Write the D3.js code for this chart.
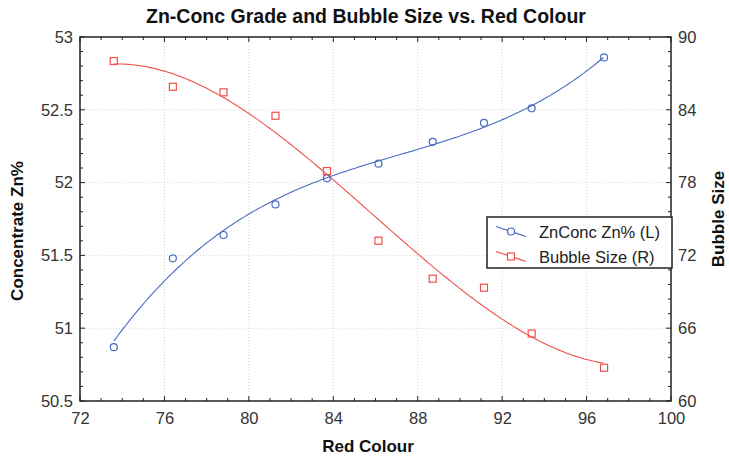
<!DOCTYPE html>
<html>
<head>
<script src="https://cdn.jsdelivr.net/npm/d3@7"></script>
<style>
  body { margin: 0; background: #fff; }
  text { font-family: Arial, "Liberation Sans", sans-serif; }
  .grid line { stroke: #d4d4d4; stroke-dasharray: 1,2; }
  .tick text { fill: #333; font-size: 16.5px; }
</style>
</head>
<body>
<script>
// Red Colour values (x)
var redColour = [73.6, 76.4, 78.8, 81.26, 83.7, 86.14, 88.71, 91.14, 93.4, 96.83];
// Concentrate Zn% (left axis)
var znConc = [50.87, 51.48, 51.64, 51.85, 52.03, 52.13, 52.28, 52.41, 52.51, 52.86];
// Bubble size (right axis)
var bubbleSize = [88.02, 85.9, 85.44, 83.51, 78.95, 73.21, 70.08, 69.34, 65.56, 62.74];

var xTicks = [72, 76, 80, 84, 88, 92, 96, 100];
var leftTicks = [50.5, 51, 51.5, 52, 52.5, 53];
var rightTicks = [60, 66, 72, 78, 84, 90];

var W = 729, H = 461;
var L = 80, R = 671, T = 37, B = 401;

var svg = d3.select("body").append("svg").attr("width", W).attr("height", H);

var x = d3.scaleLinear().domain([72, 100]).range([L, R]);
var yL = d3.scaleLinear().domain([50.5, 53]).range([B, T]);
var yR = d3.scaleLinear().domain([60, 90]).range([B, T]);

// grid
var g = svg.append("g").attr("class", "grid");
g.selectAll(".vx").data(xTicks.slice(1, -1)).enter().append("line")
  .attr("x1", d => x(d)).attr("x2", d => x(d)).attr("y1", T).attr("y2", B);
g.selectAll(".hy").data(leftTicks.slice(1, -1)).enter().append("line")
  .attr("x1", L).attr("x2", R).attr("y1", d => yL(d)).attr("y2", d => yL(d));

// minor ticks (inward)
function minor(scale, step) {
  var d = scale.domain(), out = [];
  for (var v = d[0]; v <= d[1] + 1e-9; v += step) out.push(+v.toFixed(4));
  return out;
}
var tk = svg.append("g").attr("stroke", "#222").attr("stroke-width", 1);
minor(x, 1).forEach(function(v) {
  var len = (v % 4 === 0) ? 5 : 3;
  tk.append("line").attr("x1", x(v)).attr("x2", x(v)).attr("y1", B).attr("y2", B - len);
  tk.append("line").attr("x1", x(v)).attr("x2", x(v)).attr("y1", T).attr("y2", T + len);
});
minor(yL, 0.1).forEach(function(v) {
  var len = (Math.abs(v * 2 - Math.round(v * 2)) < 1e-6) ? 5 : 3;
  tk.append("line").attr("x1", L).attr("x2", L + len).attr("y1", yL(v)).attr("y2", yL(v));
});
minor(yR, 1.2).forEach(function(v) {
  var len = (Math.abs(v / 6 - Math.round(v / 6)) < 1e-6) ? 5 : 3;
  tk.append("line").attr("x1", R).attr("x2", R - len).attr("y1", yR(v)).attr("y2", yR(v));
});

// axes labels through d3 axes
svg.append("g").attr("transform", "translate(0," + B + ")")
  .call(d3.axisBottom(x).tickValues(xTicks).tickSize(0).tickPadding(11).tickFormat(d3.format("d")))
  .call(a => a.select(".domain").remove());
svg.append("g").attr("transform", "translate(" + L + ",0)")
  .call(d3.axisLeft(yL).tickValues(leftTicks).tickSize(0).tickPadding(7).tickFormat(d => d))
  .call(a => a.select(".domain").remove());
svg.append("g").attr("transform", "translate(" + R + ",0)")
  .call(d3.axisRight(yR).tickValues(rightTicks).tickSize(0).tickPadding(7).tickFormat(d3.format("d")))
  .call(a => a.select(".domain").remove());

// frame
svg.append("rect").attr("x", L).attr("y", T).attr("width", R - L).attr("height", B - T)
  .attr("fill", "none").attr("stroke", "#222").attr("stroke-width", 1.5);

// cubic least squares fit
function polyfit(xs, ys, deg) {
  var n = deg + 1, A = [], b = [];
  for (var i = 0; i < n; i++) {
    A.push([]); b.push(0);
    for (var j = 0; j < n; j++) A[i].push(d3.sum(xs, v => Math.pow(v - 85, i + j)));
    b[i] = d3.sum(xs, (v, k) => ys[k] * Math.pow(v - 85, i));
  }
  for (var c = 0; c < n; c++) {
    for (var r = c + 1; r < n; r++) {
      var f = A[r][c] / A[c][c];
      for (var k = c; k < n; k++) A[r][k] -= f * A[c][k];
      b[r] -= f * b[c];
    }
  }
  var co = new Array(n);
  for (var r2 = n - 1; r2 >= 0; r2--) {
    var s = b[r2];
    for (var k2 = r2 + 1; k2 < n; k2++) s -= A[r2][k2] * co[k2];
    co[r2] = s / A[r2][r2];
  }
  return function(v) { return d3.sum(co, (cc, i) => cc * Math.pow(v - 85, i)); };
}

var blue = "#4a6cc0", red = "#f0504a";
var xs = d3.range(redColour[0], redColour[redColour.length - 1] + 0.001, 0.1);

var fitL = polyfit(redColour, znConc, 3);
var fitR = polyfit(redColour, bubbleSize, 3);

svg.append("path").datum(xs).attr("fill", "none").attr("stroke", blue).attr("stroke-width", 1.1)
  .attr("d", d3.line().x(d => x(d)).y(d => yL(fitL(d))));
svg.append("path").datum(xs).attr("fill", "none").attr("stroke", red).attr("stroke-width", 1.1)
  .attr("d", d3.line().x(d => x(d)).y(d => yR(fitR(d))));

svg.append("g").selectAll("circle").data(redColour).enter().append("circle")
  .attr("cx", d => x(d)).attr("cy", (d, i) => yL(znConc[i])).attr("r", 3.5)
  .attr("fill", "none").attr("stroke", blue).attr("stroke-width", 1.2);
svg.append("g").selectAll("rect").data(redColour).enter().append("rect")
  .attr("x", d => x(d) - 3.5).attr("y", (d, i) => yR(bubbleSize[i]) - 3.5)
  .attr("width", 7).attr("height", 7)
  .attr("fill", "none").attr("stroke", red).attr("stroke-width", 1.2);

// legend
var lg = svg.append("g").attr("transform", "translate(487,217)");
lg.append("rect").attr("width", 185).attr("height", 51).attr("fill", "#fff")
  .attr("stroke", "#222").attr("stroke-width", 1.5);
var items = [["ZnConc Zn% (L)", blue, "c"], ["Bubble Size (R)", red, "s"]];
items.forEach(function(it, i) {
  var cy = 14.5 + i * 25;
  lg.append("line").attr("x1", 9).attr("y1", cy - 5).attr("x2", 39).attr("y2", cy + 5)
    .attr("stroke", it[1]).attr("stroke-width", 1.2);
  if (it[2] === "c") lg.append("circle").attr("cx", 24).attr("cy", cy).attr("r", 3.5)
    .attr("fill", "#fff").attr("stroke", it[1]).attr("stroke-width", 1.2);
  else lg.append("rect").attr("x", 20.5).attr("y", cy - 3.5).attr("width", 7).attr("height", 7)
    .attr("fill", "#fff").attr("stroke", it[1]).attr("stroke-width", 1.2);
  lg.append("text").attr("x", 52).attr("y", cy + 6).attr("font-size", 16.5).attr("fill", "#222").text(it[0]);
});

// titles
svg.append("text").attr("x", 366).attr("y", 23).attr("text-anchor", "middle")
  .attr("font-size", 19.5).attr("font-weight", "bold").attr("fill", "#111")
  .text("Zn-Conc Grade and Bubble Size vs. Red Colour");
svg.append("text").attr("x", 368).attr("y", 452).attr("text-anchor", "middle")
  .attr("font-size", 17).attr("font-weight", "bold").attr("fill", "#111").text("Red Colour");
svg.append("text").attr("transform", "translate(23,231) rotate(-90)").attr("text-anchor", "middle")
  .attr("font-size", 17).attr("font-weight", "bold").attr("fill", "#111").text("Concentrate Zn%");
svg.append("text").attr("transform", "translate(724,219) rotate(-90)").attr("text-anchor", "middle")
  .attr("font-size", 17).attr("font-weight", "bold").attr("fill", "#111").text("Bubble Size");
</script>
</body>
</html>
